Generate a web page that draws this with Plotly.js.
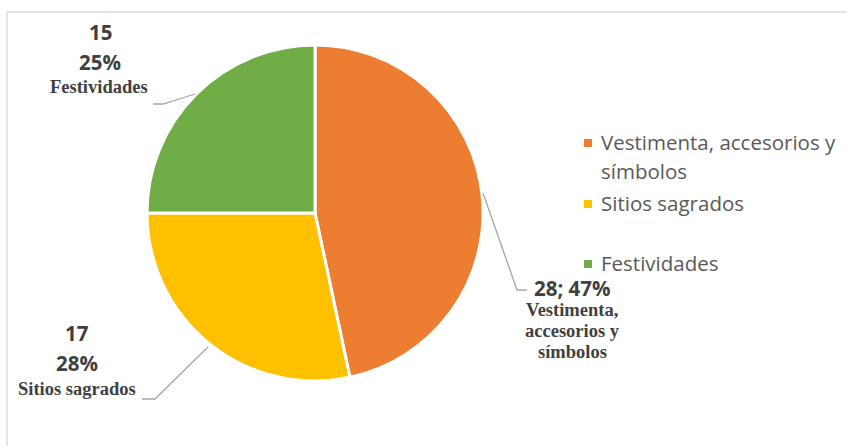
<!DOCTYPE html>
<html><head><meta charset="utf-8">
<script src="https://cdn.plot.ly/plotly-3.0.1.min.js"></script>
<style>html,body{margin:0;padding:0;background:#fff}#chart{width:847px;height:446px}</style>
</head><body><div id="chart"></div>
<script>
// ---- data ----
const categories = ["Vestimenta, accesorios y símbolos", "Sitios sagrados", "Festividades"];
const counts = [28, 17, 15];
const percents = ["47%", "28%", "25%"];
const legendLines = [["Vestimenta, accesorios y", "símbolos"], ["Sitios sagrados"], ["Festividades"]];
const labelLines = [["Vestimenta,", "accesorios y", "símbolos"], ["Sitios sagrados"], ["Festividades"]];
const colors = ["#ED7D31", "#FFC000", "#70AD47"];

// ---- layout helpers (pixel -> paper) ----
const W = 847, H = 446;
const px = x => x / W, py = y => 1 - y / H;
const cx = 315, cy = 213, R = 168;

const numFont = {family: "Open Sans, sans-serif", size: 20.5, color: "#404040", weight: 700};
const serifFont = {family: "Liberation Serif, serif", size: 18.5, color: "#404040", weight: 700};
const legFont = {family: "Open Sans, sans-serif", size: 20.5, color: "#595959"};

function ann(x, y, text, font, xanchor) {
  return {xref: "paper", yref: "paper", x: px(x), y: py(y), text: text, font: font,
          showarrow: false, xanchor: xanchor || "center", yanchor: "middle"};
}

const annotations = [];
// data labels
// Vestimenta (index 0)
annotations.push(ann(572, 288, counts[0] + "; " + percents[0], numFont));
labelLines[0].forEach((t, i) => annotations.push(ann(572, 310 + i * 21, t, serifFont)));
// Sitios sagrados (index 1)
annotations.push(ann(77, 333, String(counts[1]), numFont));
annotations.push(ann(77, 363, percents[1], numFont));
annotations.push(ann(77, 389, labelLines[1][0], serifFont));
// Festividades (index 2)
annotations.push(ann(100, 32, String(counts[2]), numFont));
annotations.push(ann(100, 62, percents[2], numFont));
annotations.push(ann(99, 87, labelLines[2][0], serifFont));

// legend
const legY = [[142, 171], [203], [263]];
const legMarkY = [143, 204, 264];
const shapes = [];
legendLines.forEach((lines, k) => {
  lines.forEach((t, i) => annotations.push(ann(599, legY[k][i], t, legFont, "left")));
  shapes.push({type: "rect", xref: "paper", yref: "paper",
    x0: px(584), x1: px(592), y0: py(legMarkY[k] - 4), y1: py(legMarkY[k] + 4),
    fillcolor: colors[k], line: {width: 0}});
});

// leader lines
const lineStyle = {color: "#A6A6A6", width: 1.3};
function path(pts) {
  return {type: "path", xref: "paper", yref: "paper", line: lineStyle,
    path: pts.map((p, i) => (i ? "L" : "M") + px(p[0]) + "," + py(p[1])).join(" ")};
}
shapes.push(path([[483, 193], [517, 290], [527, 290]]));
shapes.push(path([[195, 94], [163, 104], [153, 104]]));
shapes.push(path([[208, 347], [155, 399], [142, 399]]));

// chart frame
shapes.push({type: "rect", xref: "paper", yref: "paper", x0: px(7), x1: px(900), y0: py(12), y1: py(500),
  line: {color: "#DDDDDD", width: 1.5}, fillcolor: "rgba(0,0,0,0)", layer: "below"});

const trace = {
  type: "pie",
  labels: categories,
  values: counts,
  sort: false,
  direction: "clockwise",
  rotation: 0,
  marker: {colors: colors, line: {color: "#FFFFFF", width: 3}},
  textinfo: "none",
  hoverinfo: "label+value+percent",
  showlegend: false,
  domain: {x: [px(cx - R), px(cx + R)], y: [py(cy + R), py(cy - R)]}
};

const layout = {
  width: W, height: H,
  margin: {l: 0, r: 0, t: 0, b: 0},
  paper_bgcolor: "#FFFFFF",
  showlegend: false,
  annotations: annotations,
  shapes: shapes
};

Plotly.newPlot("chart", [trace], layout, {displayModeBar: false, staticPlot: true});
</script>
</body></html>
